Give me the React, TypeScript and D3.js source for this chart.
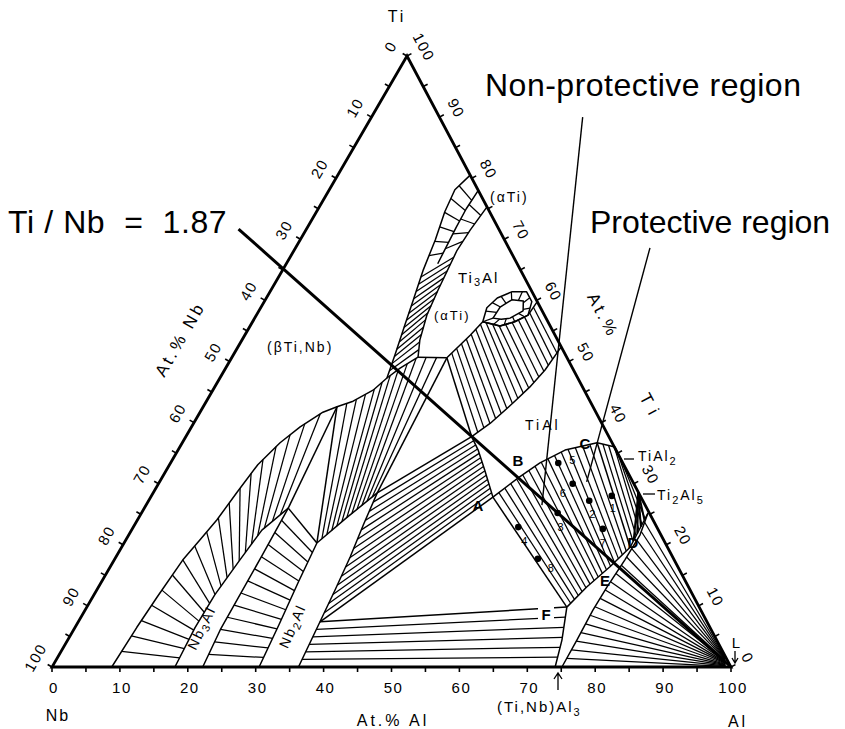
import React from "react";
import * as d3 from "d3";

type C = [number, number]; // [at.% Al, at.% Ti]; Nb is the remainder
type Pt = [number, number];

// ---------------- data (compositions) ----------------
const axisTicks = d3.range(0, 101, 5);
const axisLabels = d3.range(0, 101, 10);

const betaBoundary: C[] = [
  [8.8, 0], [9.1, 6.5], [9.5, 11.5], [10.1, 17.5], [10.9, 20.8], [11.7, 24.1], [12.3, 28.6],
  [13, 33.1], [14.4, 36.7], [16, 39.3], [18.1, 41.7], [19.7, 42.6], [21.6, 43.5], [23.6, 45.3], [24.6, 47.3],
  [23.8, 51.1], [22.7, 56], [21.8, 60.1], [20.7, 65], [19.9, 69.9], [18.9, 74.5], [18.5, 78.1], [19.5, 80.5],
];
const bandBottom: C[] = [[24.6, 47.3], [25.7, 48.9], [27.4, 50.7]];
const betaDome: C[] = [[19.7, 42.6], [21.6, 43.5], [23.6, 45.3], [24.6, 47.3], [25.7, 48.9], [27.4, 50.7], [31.7, 50.6]];
const alpha2BandRight: C[] = [[27.4, 50.7], [26.2, 53.5], [25.1, 57.6], [24.6, 61.7], [24, 68.2], [24.2, 71.5], [24.7, 75.3]];
const alphaMidRail: C[] = [[22.3, 66], [21.9, 72], [21.8, 75], [22, 78]];
const alpha2Bottom: C[] = [[27.4, 50.7], [31.7, 50.6]];
const alpha2GammaTop: C[] = [[31.7, 50.6], [33.2, 54.3], [33.9, 56.5], [36.8, 55.8], [38.6, 56.5], [40, 57.6], [40.2, 59.8]];
const gammaTop: C[] = [[42.1, 37.7], [43.7, 39.9], [45.3, 43.2], [46.4, 45.8], [47.2, 48.6], [47.6, 52.4]];
const gammaLeft: C[] = [[50.4, 27.8], [46.9, 32.2], [44.2, 35.5], [42.1, 37.7]];
const gammaBottom: C[] = [[50.4, 27.8], [52.5, 31], [54.4, 33.4], [57, 35.5], [61.1, 36.7]];
const tial2Curve: C[] = [[61.1, 36.7], [64.1, 36], [66.5, 33.5]];
const nb3alLeft: C[] = [[18.1, 0], [17.7, 6.4], [17.8, 11.8], [18.5, 17.5], [19.2, 22.4], [21.2, 26]];
const nb3alRight: C[] = [[22.2, 0], [21.6, 6.1], [21.5, 11.8], [21.4, 18.3], [21.2, 26]];
const sigmaLeft: C[] = [[30.5, 0], [29.8, 7], [29, 14], [28.4, 20.3]];
const sigmaTop: C[] = [[28.4, 20.3], [30.6, 24.4], [33, 28.5]];
const sigmaRight: C[] = [[36.3, 0], [35.6, 7.4], [35.1, 12.6], [34.5, 18], [33.7, 23.2], [33, 28.5]];
const tial3Left: C[] = [[74.1, 0], [72.8, 4.4], [70.7, 9.8], [71.9, 13.1], [73.6, 16.4], [74.9, 19.6], [74.6, 25.2]];
const tial3Right: C[] = [[75.1, 0], [75, 4.4], [74.8, 9.3], [74.9, 13.1], [75.2, 17.5], [75.3, 21.6], [74.6, 25.2]];
const liquidSide: C[] = [[99.2, 0], [98.3, 1.6]];
const ti2al5Point: C = [71.4, 28.6];
const blobOuter: C[] = [[33.9, 56.5], [33.3, 58.8], [34, 60.4], [35.6, 61.4], [37.8, 61.4], [39.4, 59.8], [40, 57.6], [38.6, 56.5], [36.8, 55.8]];
const blobInner: C[] = [[35.1, 57.1], [35.2, 58.9], [36.3, 60.1], [38.1, 59.9], [38.9, 58.3], [37.6, 57.1], [36.4, 56.9]];

const tiNbRatio = 1.87;
const tiNbAlRange = [-10, 100];

const dotIds = ["1", "2", "3", "4", "5", "6", "7", "8"];
const dotComps: C[] = [[67.8, 28], [64.9, 27.2], [61.3, 25.2], [56.7, 22.9], [57.1, 33.4], [61, 30], [69.3, 22.6], [62.3, 17.7]];
const dotLabelOffsets: Pt[] = [[1, 16], [3, 17], [3, 18], [6, 18], [14, 1], [-10, 13], [0, 18], [13, 13]];

const pointerNonProtective: C[] = [[31.1, 90], [58.3, 26.5]];
const pointerProtective: C[] = [[52.2, 68.6], [62.9, 30.3]];

// ---------------- projection ----------------
const yTi = d3.scaleLinear().domain([0, 100]).range([667, 56]);
const xAl = d3.scaleLinear().domain([0, 100]).range([52, 731]);
const xTi = d3.scaleLinear().domain([0, 100]).range([0, 355]);
const proj = (c: C): Pt => [xAl(c[0]) + xTi(c[1]), yTi(c[1])];

const line = d3.line<Pt>().x((d) => d[0]).y((d) => d[1]);
const path = (cs: C[], closed = false) => line(cs.map(proj)) + (closed ? "Z" : "");

function along(pts: Pt[]) {
  const cum = [0];
  for (let i = 1; i < pts.length; i++)
    cum.push(cum[i - 1] + Math.hypot(pts[i][0] - pts[i - 1][0], pts[i][1] - pts[i - 1][1]));
  const total = cum[cum.length - 1];
  return (t: number): Pt => {
    const d = t * total;
    let i = 1;
    while (i < pts.length - 1 && cum[i] < d) i++;
    const seg = cum[i] - cum[i - 1] || 1;
    const u = Math.max(0, Math.min(1, (d - cum[i - 1]) / seg));
    return [pts[i - 1][0] + (pts[i][0] - pts[i - 1][0]) * u, pts[i - 1][1] + (pts[i][1] - pts[i - 1][1]) * u];
  };
}
function hatch(a: C[], b: C[], n: number): [Pt, Pt][] {
  const fa = along(a.map(proj));
  const fb = along(b.map(proj));
  return d3.range(1, n + 1).map((i) => {
    const t = i / (n + 1);
    return [fa(t), fb(t)];
  });
}
function ringHatch(a: C[], b: C[], n: number): [Pt, Pt][] {
  const pa = a.map(proj), pb = b.map(proj);
  const fa = along([...pa, pa[0]]);
  const fb = along([...pb, pb[0]]);
  return d3.range(n).map((i) => [fa(i / n), fb(i / n)]);
}

const FONT = "'Liberation Sans', Arial, Helvetica, sans-serif";

export default function App() {
  const b = betaBoundary;
  const G = gammaLeft[3];
  const A = gammaLeft[0];
  const S = sigmaRight[1];
  const Q = sigmaRight[5];
  const F = tial3Left[2];
  const Cc = gammaBottom[4];
  const tip = nb3alLeft[5];
  const a2corner = alpha2Bottom[1];

  const regions: [Pt, Pt][][] = [
    hatch(b.slice(0, 12), nb3alLeft, 18),
    hatch(nb3alRight, sigmaLeft, 12),
    hatch(sigmaTop, betaDome, 11),
    hatch(sigmaRight.slice(1), gammaLeft, 13),
    hatch(sigmaRight.slice(0, 2), tial3Left.slice(0, 3), 5),
    hatch(gammaBottom, tial3Left.slice(2, 6), 15),
    hatch(tial2Curve, tial3Left.slice(5), 5),
    hatch(alpha2GammaTop, gammaTop, 16),
    hatch(b.slice(14, 19), alpha2BandRight.slice(0, 5), 14),
    hatch(b.slice(18), alphaMidRail, 6),
    hatch(alphaMidRail, alpha2BandRight.slice(4), 4),
    hatch(tial3Right, liquidSide, 17),
    ringHatch(blobOuter, blobInner, 12),
  ];
  const ti2al5Fan: [Pt, Pt][] = hatch([ti2al5Point, ti2al5Point], tial3Left.slice(5), 4);

  const boundaries: C[][] = [
    betaBoundary, bandBottom, alpha2BandRight, alphaMidRail, alpha2Bottom, [a2corner, G],
    alpha2GammaTop, gammaTop, gammaLeft, gammaBottom, tial2Curve,
    nb3alLeft, nb3alRight, sigmaLeft, sigmaTop, sigmaRight, tial3Left, tial3Right,
    [b[11], tip], [tip, sigmaTop[0]], [b[11], sigmaTop[0]], [a2corner, Q],
    [S, A], [S, F], [Q, G], [A, F], [Cc, tial3Left[5]],
  ];

  const tiNbLine: C[] = tiNbAlRange.map((al) => [al, ((100 - al) * tiNbRatio) / (1 + tiNbRatio)] as C);

  const corners: C[] = [[0, 100], [0, 0], [100, 0]];
  const nL: Pt = [-0.864, -0.502];
  const nR: Pt = [0.883, -0.468];

  const tickLines: [Pt, Pt][] = [];
  axisTicks.forEach((v) => {
    const pb = proj([v, 0]);
    tickLines.push([pb, [pb[0], pb[1] + 5]]);
    const pl = proj([0, 100 - v]);
    tickLines.push([pl, [pl[0] + nL[0] * 5, pl[1] + nL[1] * 5]]);
    const pr = proj([100 - v, v]);
    tickLines.push([pr, [pr[0] + nR[0] * 5, pr[1] + nR[1] * 5]]);
  });

  const lbl = { fontFamily: FONT, fill: "#000" } as const;

  return (
    <div style={{ position: "absolute", left: 0, top: 0 }}>
      <svg width={845} height={729} viewBox="0 0 845 729" style={{ display: "block", background: "#fff" }}>
        <rect width={845} height={729} fill="#fff" />
        {/* tie lines */}
        <g stroke="#000" strokeWidth={1.25} fill="none">
          {regions.flat().map(([p, q], i) => (
            <line key={i} x1={p[0]} y1={p[1]} x2={q[0]} y2={q[1]} />
          ))}
          {ti2al5Fan.map(([p, q], i) => (
            <line key={"f" + i} x1={p[0]} y1={p[1]} x2={q[0]} y2={q[1]} strokeWidth={2} />
          ))}
        </g>
        {/* phase boundaries */}
        <g stroke="#000" strokeWidth={1.5} fill="none" strokeLinejoin="round">
          {boundaries.map((cs, i) => (
            <path key={i} d={path(cs)} />
          ))}
          <path d={path(blobOuter, true)} />
          <path d={path(blobInner, true)} />
        </g>
        {/* triangle */}
        <path d={path(corners, true)} fill="none" stroke="#000" strokeWidth={2.8} strokeLinejoin="miter" />
        <g stroke="#000" strokeWidth={1.6}>
          {tickLines.map(([p, q], i) => (
            <line key={i} x1={p[0]} y1={p[1]} x2={q[0]} y2={q[1]} />
          ))}
        </g>
        {/* Ti/Nb line */}
        <path d={path(tiNbLine)} stroke="#000" strokeWidth={3} fill="none" />
        {/* pointers */}
        <g stroke="#000" strokeWidth={1.4}>
          <path d={path(pointerNonProtective)} />
          <path d={path(pointerProtective)} />
        </g>
        {/* dots */}
        {dotComps.map((c, i) => {
          const p = proj(c);
          return (
            <g key={i}>
              <circle cx={p[0]} cy={p[1]} r={3.3} fill="#000" />
              <text x={p[0] + dotLabelOffsets[i][0]} y={p[1] + dotLabelOffsets[i][1]} fontSize={11} textAnchor="middle" {...lbl}>
                {dotIds[i]}
              </text>
            </g>
          );
        })}
        {/* axis tick labels */}
        <g fontSize={15} letterSpacing={1.5} textAnchor="middle" {...lbl}>
          {axisLabels.map((v) => {
            const pb = proj([v, 0]);
            const pl = proj([0, 100 - v]);
            const pr = proj([100 - v, v]);
            const lx = pl[0] + nL[0] * 19, ly = pl[1] + nL[1] * 19;
            const rx = pr[0] + nR[0] * 19, ry = pr[1] + nR[1] * 19;
            return (
              <g key={v}>
                <text x={pb[0] + 2} y={pb[1] + 21} dy="0.35em">{v}</text>
                <text x={lx} y={ly} dy="0.35em" transform={`rotate(-60 ${lx} ${ly})`}>{v}</text>
                <text x={rx} y={ry} dy="0.35em" transform={`rotate(62 ${rx} ${ry})`}>{v}</text>
              </g>
            );
          })}
        </g>
        {/* axis titles */}
        <g fontSize={16} letterSpacing={3} textAnchor="middle" {...lbl}>
          <text x={397} y={22}>Ti</text>
          <text x={58} y={721} letterSpacing={2}>Nb</text>
          <text x={393} y={726}>At.% Al</text>
          <text x={738} y={727}>Al</text>
          <text x={185} y={342} transform="rotate(-60 185 342)" fontSize={17}>At.% Nb</text>
          <text x={598} y={318} transform="rotate(62 598 318)" fontSize={17}>At.%</text>
          <text x={646} y={410} transform="rotate(62 646 410)" fontSize={17} letterSpacing={8}>Ti</text>
        </g>
        <text x={497} y={712} fontSize={15} letterSpacing={2} {...lbl}>
          (Ti,Nb)Al<tspan fontSize={11} dy={4}>3</tspan>
        </text>
        {/* arrows */}
        <g stroke="#000" strokeWidth={1.3} fill="none">
          <path d="M558,690 L558,674 M554,679 L558,673 L562,679" />
          <path d="M735,651 L735,662 M732,658 L735,663 L738,658" />
          <path d="M624,459 L634,459" />
          <path d="M643,494 L655,494" />
        </g>
        <text x={736} y={648} fontSize={15} textAnchor="middle" {...lbl}>L</text>
        {/* phase labels */}
        <g fontSize={14} letterSpacing={2} {...lbl}>
          <text x={267} y={352}>(βTi,Nb)</text>
          <text x={458} y={283} fontSize={15}>
            Ti<tspan fontSize={11} dy={3}>3</tspan>
            <tspan dy={-3}>Al</tspan>
          </text>
          <text x={490} y={202}>(αTi)</text>
          <text x={434} y={320} fontSize={13}>(αTi)</text>
          <text x={525} y={430} letterSpacing={3}>TiAl</text>
          <text x={638} y={461}>
            TiAl<tspan fontSize={11} dy={4}>2</tspan>
          </text>
          <text x={657} y={500}>
            Ti<tspan fontSize={11} dy={4}>2</tspan>
            <tspan dy={-4}>Al</tspan>
            <tspan fontSize={11} dy={4}>5</tspan>
          </text>
          <text x={206} y={630} transform="rotate(-64 206 630)" textAnchor="middle">
            Nb<tspan fontSize={11} dy={3}>3</tspan>
            <tspan dy={-3}>Al</tspan>
          </text>
          <text x={297} y={628} transform="rotate(-66 297 628)" textAnchor="middle">
            Nb<tspan fontSize={11} dy={3}>2</tspan>
            <tspan dy={-3}>Al</tspan>
          </text>
        </g>
        {/* point letters */}
        <g fontSize={15} fontWeight="bold" textAnchor="middle" {...lbl}>
          <text x={478} y={511}>A</text>
          <text x={518} y={466}>B</text>
          <text x={585} y={449}>C</text>
          <text x={633} y={548}>D</text>
          <text x={605} y={586}>E</text>
          <rect x={538} y={605} width={16} height={17} fill="#fff" />
          <text x={546} y={620}>F</text>
        </g>
        {/* annotations */}
        <g fontSize={32} {...lbl}>
          <text x={8} y={233} xmlSpace="preserve" letterSpacing={0.6}>Ti / Nb  =  1.87</text>
          <text x={485} y={96} letterSpacing={0.5}>Non-protective region</text>
          <text x={590} y={233}>Protective region</text>
        </g>
      </svg>
    </div>
  );
}
